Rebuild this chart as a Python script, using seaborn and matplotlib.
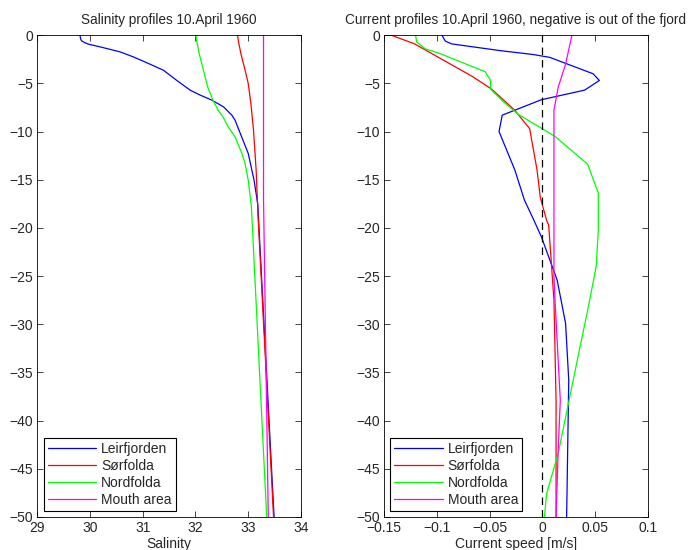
import matplotlib
matplotlib.use("Agg")
import matplotlib.pyplot as plt
import seaborn as sns

# depth [m] and salinity, 10 April 1960
sal_names = ["Leirfjorden", "Sørfolda", "Nordfolda", "Mouth area"]
colors = ["#0000ff", "#ff0000", "#00ff00", "#ff00ff"]

sal_leir_depth = [0, -0.35, -0.59, -0.8, -0.93, -1.21, -1.73, -2.25, -2.77, -3.63, -4.67, -5.71,
                  -6.22, -6.74, -7.43, -8.3, -8.82, -10.2, -12.27, -15.04, -17.5, -50]
sal_leir = [29.81, 29.82, 29.84, 29.91, 29.97, 30.19, 30.57, 30.82, 31.04, 31.39, 31.64, 31.90,
            32.09, 32.31, 32.53, 32.69, 32.75, 32.85, 33.00, 33.11, 33.18, 33.49]
sal_sor_depth = [0, -0.52, -1.9, -3.63, -5.01, -7.09, -9.85, -14.0, -19.2, -50]
sal_sor = [32.80, 32.81, 32.86, 32.94, 33.00, 33.05, 33.10, 33.15, 33.19, 33.48]
sal_nord_depth = [0, -0.52, -1.9, -3.63, -5.36, -6.74, -7.78, -8.47, -9.51, -10.55, -12.27, -13.31,
                  -15.04, -17.81, -50]
sal_nord = [32.01, 32.02, 32.07, 32.15, 32.23, 32.33, 32.43, 32.52, 32.62, 32.75, 32.88, 32.94,
            33.00, 33.06, 33.35]
sal_mouth_depth = [0, -17, -50]
sal_mouth = [33.29, 33.29, 33.38]

# depth [m] and current speed [m/s]
cur_leir_depth = [0, -0.6, -0.9, -1.6, -2.0, -2.3, -4.0, -4.7, -5.7, -6.7, -8.3, -10.0, -14, -17.1,
                  -19.2, -20.9, -25.4, -29.9, -35.8, -50]
cur_leir = [-0.095, -0.092, -0.086, -0.040, -0.009, 0.007, 0.048, 0.054, 0.040, -0.001, -0.038,
            -0.041, -0.026, -0.017, -0.008, -0.001, 0.014, 0.022, 0.025, 0.023]
cur_sor_depth = [0, -0.9, -3.0, -4.3, -5.6, -6.6, -7.8, -9.7, -14, -16.8, -19.2, -19.7, -27.5, -37.9, -50]
cur_sor = [-0.143, -0.121, -0.087, -0.066, -0.048, -0.038, -0.026, -0.012, -0.005, -0.002, 0.004,
           0.006, 0.011, 0.013, 0.013]
cur_nord_depth = [0, -0.7, -1.4, -1.9, -3.8, -4.7, -5.6, -6.8, -8.2, -10.5, -13.4, -16.4, -20.2, -24,
                  -28.5, -32.7, -38.6, -43.4, -47.6, -50]
cur_nord = [-0.120, -0.119, -0.111, -0.097, -0.054, -0.049, -0.049, -0.038, -0.023, 0.012, 0.043,
            0.053, 0.053, 0.051, 0.043, 0.035, 0.024, 0.015, 0.004, 0.002]
cur_mouth_depth = [0, -1, -3, -5.4, -7.8, -10.9, -25, -27.5, -37.9, -43.1, -50]
cur_mouth = [0.028, 0.026, 0.022, 0.015, 0.011, 0.011, 0.011, 0.012, 0.017, 0.015, 0.013]

sns.set_style("ticks")
plt.rcParams["font.family"] = ["Liberation Sans", "DejaVu Sans"]
plt.rcParams["xtick.direction"] = "in"
plt.rcParams["ytick.direction"] = "in"

fig = plt.figure(figsize=(6.93, 5.5), dpi=100)
ax1 = fig.add_axes([0.0538, 0.06, 0.3805, 0.876])
ax2 = fig.add_axes([0.554, 0.06, 0.381, 0.876])

sal = [(sal_leir, sal_leir_depth), (sal_sor, sal_sor_depth),
       (sal_nord, sal_nord_depth), (sal_mouth, sal_mouth_depth)]
cur = [(cur_leir, cur_leir_depth), (cur_sor, cur_sor_depth),
       (cur_nord, cur_nord_depth), (cur_mouth, cur_mouth_depth)]

for (x, y), name, c in zip(sal, sal_names, colors):
    sns.lineplot(x=x, y=y, sort=False, estimator=None, color=c, label=name, lw=0.9, ax=ax1)
for (x, y), name, c in zip(cur, sal_names, colors):
    sns.lineplot(x=x, y=y, sort=False, estimator=None, color=c, label=name, lw=0.9, ax=ax2)
ax2.axvline(0, color="k", ls=(0, (6, 4)), lw=0.9)

for ax, xlim, xticks, title, xlabel in [
        (ax1, (29, 34), [29, 30, 31, 32, 33, 34], "Salinity profiles 10.April 1960", "Salinity"),
        (ax2, (-0.15, 0.1), [-0.15, -0.1, -0.05, 0, 0.05, 0.1],
         "Current profiles 10.April 1960, negative is out of the fjord", "Current speed [m/s]")]:
    ax.set_xlim(*xlim)
    ax.set_ylim(-50, 0)
    ax.set_xticks(xticks)
    ax.set_xticklabels([("%g" % t).replace("-", "\u2212") for t in xticks])
    ax.set_yticks(range(-50, 1, 5))
    ax.set_yticklabels([("%d" % t).replace("-", "\u2212") for t in range(-50, 1, 5)])
    ax.tick_params(labelsize=10, length=4, width=0.6, top=True, right=True, pad=3)
    for s in ax.spines.values():
        s.set_visible(True)
        s.set_linewidth(0.6)
        s.set_color("k")
    ax.set_title(title, fontsize=9.8, pad=8)
    ax.set_xlabel(xlabel, fontsize=10, labelpad=1)
    ax.set_ylabel("")
    leg = ax.legend(loc="lower left", fontsize=10, fancybox=False, framealpha=1,
                    edgecolor="k", handlelength=3.5, borderpad=0.3, labelspacing=0.2,
                    handletextpad=0.35, borderaxespad=0.45)
    leg.get_frame().set_linewidth(0.8)

fig.savefig("out.png", dpi=100)
